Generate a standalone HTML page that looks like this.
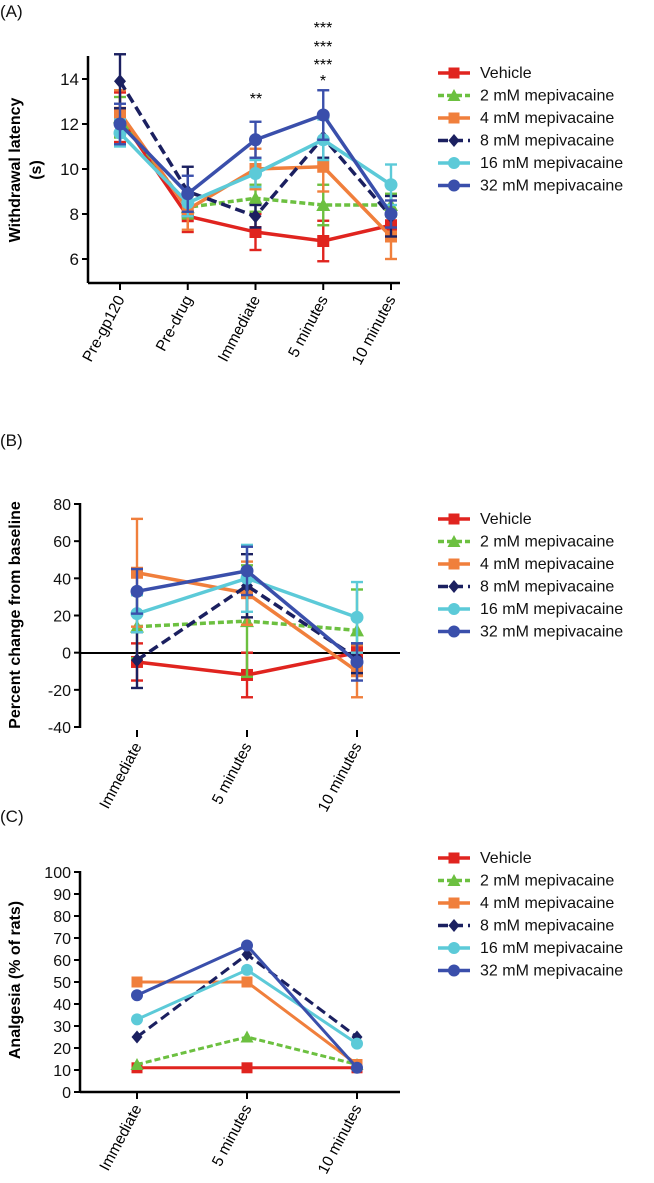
<!DOCTYPE html>
<html><head><meta charset="utf-8"><style>
body{margin:0;background:#fff;}
svg{display:block;font-family:"Liberation Sans",Arial,sans-serif;}
</style></head><body>
<svg id="s" width="654" height="1183"></svg>
<script>
const seriesNames=["Vehicle","2 mM mepivacaine","4 mM mepivacaine","8 mM mepivacaine","16 mM mepivacaine","32 mM mepivacaine"];
const colors=["#e0241f","#6cc040","#f07f3c","#1b2060","#5ccad8","#3a4fab"];
const dashes=["","6,3","","10,5","",""];
const markers=["square","triangle","square","diamond","circle","circle"];
const catsA=["Pre-gp120","Pre-drug","Immediate","5 minutes","10 minutes"];
const valsA=[[12.3,7.9,7.2,6.8,7.5],[12.3,8.3,8.7,8.4,8.4],[12.5,8.2,10.0,10.1,7.0],[13.9,9.0,7.9,11.4,7.9],[11.6,8.5,9.8,11.3,9.3],[12.0,8.9,11.3,12.4,8.0]];
const errA=[[1.1,0.7,0.8,0.9,0.5],[0.9,0.5,0.6,0.9,0.5],[1.0,0.9,0.9,1.1,1.0],[1.2,1.1,0.5,0.9,0.9],[0.6,0.6,0.6,0.9,0.9],[0.9,0.8,0.8,1.1,0.6]];
const ticksA=[6,8,10,12,14];
const catsB=["Immediate","5 minutes","10 minutes"];
const valsB=[[-5,-12,0],[14,17,12],[43,32,-10],[-4,36,-3],[21,40,19],[33,44,-5]];
const errB=[[10,12,3],[17,30,22],[29,17,14],[15,17,8],[10,18,19],[12,13,10]];
const ticksB=[-40,-20,0,20,40,60,80];
const catsC=["Immediate","5 minutes","10 minutes"];
const valsC=[[11,11,11],[12.5,25,12.5],[50,50,12.5],[25,62.5,25],[33,55.5,22],[44,66.6,11]];
const ticksC=[0,10,20,30,40,50,60,70,80,90,100];

const NS="http://www.w3.org/2000/svg";
const svg=document.getElementById('s');
function el(t,a,p){const e=document.createElementNS(NS,t);for(const k in a)e.setAttribute(k,a[k]);(p||svg).appendChild(e);return e;}
function txt(x,y,s,a,p){const e=el('text',Object.assign({x:x,y:y},a),p);e.textContent=s;return e;}
function marker(g,m,x,y,c,r){
 if(m==="square")return el('rect',{x:x-r,y:y-r,width:2*r,height:2*r,fill:c},g);
 if(m==="circle")return el('circle',{cx:x,cy:y,r:r+0.5,fill:c},g);
 if(m==="triangle")return el('polygon',{points:`${x},${y-r-1} ${x-r-1},${y+r} ${x+r+1},${y+r}`,fill:c},g);
 return el('polygon',{points:`${x},${y-r-1} ${x+r},${y} ${x},${y+r+1} ${x-r},${y}`,fill:c},g);
}
function panel(o){
 const g=el('g',{});
 
 
 const ys=v=>o.y0+(v-o.vmin)*(o.y1-o.y0)/(o.vmax-o.vmin);
 const xs=i=>o.xs[0]+i*(o.xs[1]-o.xs[0])/(o.cats.length-1);
 const lab=txt(0,o.labY,o.label,{'font-size':17,fill:'#111'},g);
 
 const ax=el('g',{},g);
 el('line',{x1:o.ax,y1:o.axTop,x2:o.ax,y2:o.axBot,stroke:'#000','stroke-width':2.5},ax);
 o.ticks.forEach(t=>{el('line',{x1:o.ax-6,y1:ys(t),x2:o.ax,y2:ys(t),stroke:'#000','stroke-width':2},ax);
  const tl=txt(o.ax-9,ys(t)+6,String(t),{'font-size':o.tickFs,'text-anchor':'end',fill:'#111'},ax);
  });
 const yt=txt(0,0,o.ytitle,{'font-size':16,'font-weight':'bold','text-anchor':'middle',transform:`translate(${o.ytX},${o.ytY}) rotate(-90)`},g);
 
 if(o.ytitle2){const y2=txt(0,0,o.ytitle2,{'font-size':16,'font-weight':'bold','text-anchor':'middle',transform:`translate(${o.ytX+21},${o.ytY}) rotate(-90)`},g);}
 const xa=el('g',{},g);
 el('line',{x1:o.ax,y1:o.xLineY,x2:o.xEnd,y2:o.xLineY,stroke:'#000','stroke-width':o.xLineW},xa);
 o.cats.forEach((c,i)=>{el('line',{x1:xs(i),y1:o.xTickY,x2:xs(i),y2:o.xTickY+7,stroke:'#000','stroke-width':2},xa);
  const cl=txt(0,0,c,{'font-size':15.5,'text-anchor':'end',transform:`translate(${xs(i)+5},${o.xTickY+16}) rotate(-62)`},xa);
  });
 o.vals.forEach((vs,s)=>{
  const sg=el('g',{},g);
  if(o.errs){vs.forEach((v,i)=>{const e=o.errs[s][i];const x=xs(i);
   el('line',{x1:x,y1:ys(v-e),x2:x,y2:ys(v+e),stroke:colors[s],'stroke-width':2.4},sg);
   [v-e,v+e].forEach(w=>el('line',{x1:x-6,y1:ys(w),x2:x+6,y2:ys(w),stroke:colors[s],'stroke-width':2.4},sg));});}
  el('polyline',{points:vs.map((v,i)=>xs(i)+','+ys(v)).join(' '),fill:'none',stroke:colors[s],'stroke-width':o.lw,'stroke-dasharray':dashes[s]},sg);
  vs.forEach((v,i)=>{const m=marker(sg,markers[s],xs(i),ys(v),colors[s],o.mr);});
 });
 const lg=el('g',{},g);
 seriesNames.forEach((n,s)=>{const y=o.legY+s*22.5;const eg=el('g',{},lg);
  
  el('line',{x1:438,y1:y,x2:470,y2:y,stroke:colors[s],'stroke-width':3.5,'stroke-dasharray':dashes[s]},eg);
  marker(eg,markers[s],454,y,colors[s],5.5);
  txt(480,y+5,n,{'font-size':16,fill:'#111'},eg);});
 return {g,ys,xs};
}
const A=panel({name:'panel-a',label:'(A)',labY:17,cats:catsA,vals:valsA,errs:errA,ticks:ticksA,vmin:6,vmax:14,y0:259,y1:79,ax:88,axTop:56,axBot:283,xLineY:283,xLineW:2.5,xEnd:400,xTickY:283,xs:[120,391],tickFs:17,ytitle:'Withdrawal latency',ytitle2:'(s)',ytX:20,ytY:170,lw:3.5,mr:6,legY:73});
[[256,'**',104],[323,'***',33],[323,'***',52],[323,'***',70],[323,'*',86]].forEach(a=>{const t=txt(a[0],a[2],a[1],{'font-size':16,'text-anchor':'middle'},A.g);});
const B=panel({name:'panel-b',label:'(B)',labY:446,cats:catsB,vals:valsB,errs:errB,ticks:ticksB,vmin:-40,vmax:80,y0:727,y1:504,ax:80,axTop:503,axBot:728,xLineY:653,xLineW:2,xEnd:400,xTickY:730,xs:[137,357],tickFs:16,ytitle:'Percent change from baseline',ytX:20,ytY:615,lw:3.5,mr:6,legY:519});
const C=panel({name:'panel-c',label:'(C)',labY:822,cats:catsC,vals:valsC,errs:null,ticks:ticksC,vmin:0,vmax:100,y0:1092,y1:872,ax:80,axTop:871,axBot:1093,xLineY:1092,xLineW:2.5,xEnd:400,xTickY:1092,xs:[137,357],tickFs:16,ytitle:'Analgesia (% of rats)',ytX:20,ytY:980,lw:3,mr:5.5,legY:858});
</script>
</body></html>
